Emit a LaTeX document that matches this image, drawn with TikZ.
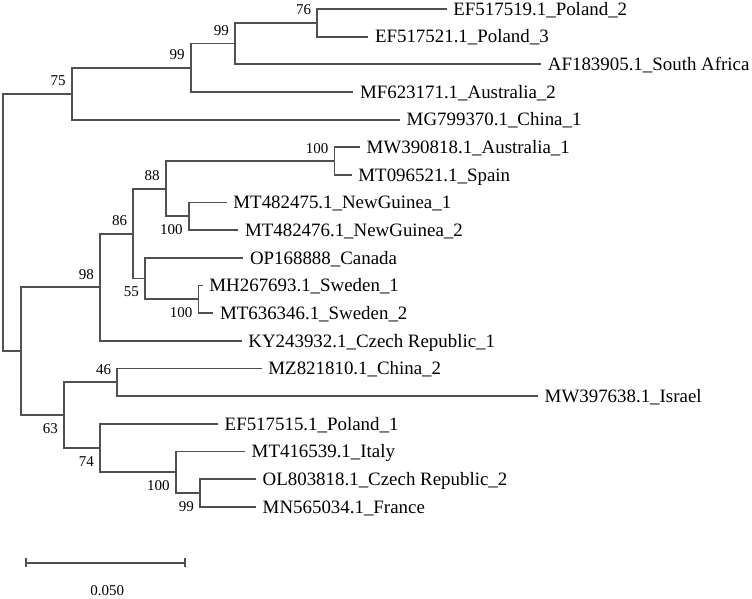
\documentclass[tikz,border=0pt]{standalone}
\usepackage{fontspec}
\setmainfont{Liberation Serif}
\usetikzlibrary{calc,arrows.meta}
\definecolor{linegray}{RGB}{80,80,80}
\begin{document}
\begin{tikzpicture}[x=1pt,y=-1pt,
  br/.style={draw=linegray, line width=1.8pt},
  leaf/.style={anchor=base west, inner sep=0pt, font=\fontsize{18.9}{21}\selectfont, xshift=6.5pt, yshift=-6.3pt},
  bsa/.style={anchor=base east, inner sep=0pt, font=\fontsize{15}{16}\selectfont},
  bsb/.style={anchor=north east, inner sep=0pt, font=\fontsize{15}{16}\selectfont},
  sbar/.style={draw=linegray, line width=1.8pt, {Bar[width=9pt]}-{Bar[width=9pt]}},
]
\useasboundingbox (0,0) rectangle (752,598);

% leaf tips
\coordinate (l1)  at (446.7,9);
\coordinate (l2)  at (368.3,36.65);
\coordinate (l3)  at (541.2,64.3);
\coordinate (l4)  at (353.3,91.95);
\coordinate (l5)  at (400,119.6);
\coordinate (l6)  at (360,147.25);
\coordinate (l7)  at (351.7,174.9);
\coordinate (l8)  at (226.7,202.55);
\coordinate (l9)  at (238.3,230.2);
\coordinate (l10) at (243.3,257.85);
\coordinate (l11) at (202.7,285.5);
\coordinate (l12) at (213.3,313.15);
\coordinate (l13) at (241.7,340.8);
\coordinate (l14) at (261.7,368.45);
\coordinate (l15) at (538,396.1);
\coordinate (l16) at (218,423.75);
\coordinate (l17) at (245,451.4);
\coordinate (l18) at (256,479.05);
\coordinate (l19) at (256,506.7);

% internal nodes
\coordinate (n76)   at (317.3,22.825);
\coordinate (n99b)  at (235,43.5625);
\coordinate (n99a)  at (190.7,67.756);
\coordinate (n75)   at (71.7,93.678);
\coordinate (n100a) at (334.5,161.075);
\coordinate (n100b) at (188.7,216.375);
\coordinate (n88)   at (165.7,188.725);
\coordinate (n100c) at (198.5,299.325);
\coordinate (n55)   at (145,278.5875);
\coordinate (n86)   at (133.3,233.656);
\coordinate (n98)   at (100,287.228);
\coordinate (n46)   at (117.3,382.275);
\coordinate (n99c)  at (200,492.875);
\coordinate (n100d) at (175.7,472.1375);
\coordinate (n74)   at (100,447.944);
\coordinate (n63)   at (64,415.11);
\coordinate (nX)    at (21,351.169);
\coordinate (root)  at (2.7,222.42);

% branches
\draw[br] (l1) -| (n76) |- (l2);
\draw[br] (n76) -| (n99b) |- (l3);
\draw[br] (n99b) -| (n99a) |- (l4);
\draw[br] (n99a) -| (n75) |- (l5);
\draw[br] (l6) -| (n100a) |- (l7);
\draw[br] (l8) -| (n100b) |- (l9);
\draw[br] (n100a) -| (n88) |- (n100b);
\draw[br] (l11) -| (n100c) |- (l12);
\draw[br] (l10) -| (n55) |- (n100c);
\draw[br] (n88) -| (n86) |- (n55);
\draw[br] (n86) -| (n98) |- (l13);
\draw[br] (l14) -| (n46) |- (l15);
\draw[br] (l18) -| (n99c) |- (l19);
\draw[br] (l17) -| (n100d) |- (n99c);
\draw[br] (l16) -| (n74) |- (n100d);
\draw[br] (n46) -| (n63) |- (n74);
\draw[br] (n98) -| (nX) |- (n63);
\draw[br] (n75) -| (root) |- (nX);

% leaf labels
\node[leaf] (t1)  at (l1)  {EF517519.1\_Poland\_2};
\node[leaf] (t2)  at (l2)  {EF517521.1\_Poland\_3};
\node[leaf] (t3)  at (l3)  {AF183905.1\_South Africa};
\node[leaf] (t4)  at (l4)  {MF623171.1\_Australia\_2};
\node[leaf] (t5)  at (l5)  {MG799370.1\_China\_1};
\node[leaf] (t6)  at (l6)  {MW390818.1\_Australia\_1};
\node[leaf] (t7)  at (l7)  {MT096521.1\_Spain};
\node[leaf] (t8)  at (l8)  {MT482475.1\_NewGuinea\_1};
\node[leaf] (t9)  at (l9)  {MT482476.1\_NewGuinea\_2};
\node[leaf] (t10) at (l10) {OP168888\_Canada};
\node[leaf] (t11) at (l11) {MH267693.1\_Sweden\_1};
\node[leaf] (t12) at (l12) {MT636346.1\_Sweden\_2};
\node[leaf] (t13) at (l13) {KY243932.1\_Czech Republic\_1};
\node[leaf] (t14) at (l14) {MZ821810.1\_China\_2};
\node[leaf] (t15) at (l15) {MW397638.1\_Israel};
\node[leaf] (t16) at (l16) {EF517515.1\_Poland\_1};
\node[leaf] (t17) at (l17) {MT416539.1\_Italy};
\node[leaf] (t18) at (l18) {OL803818.1\_Czech Republic\_2};
\node[leaf] (t19) at (l19) {MN565034.1\_France};

% bootstrap values
\node[bsa] (b76)   at ($(n76)+(-6,-8)$)   {76};
\node[bsa] (b99b)  at ($(n99b)+(-6,-8)$)  {99};
\node[bsa] (b99a)  at ($(n99a)+(-6,-8)$)  {99};
\node[bsa] (b75)   at ($(n75)+(-6,-8)$)   {75};
\node[bsa] (b100a) at ($(n100a)+(-6,-8)$) {100};
\node[bsa] (b88)   at ($(n88)+(-6,-8)$)   {88};
\node[bsa] (b86)   at ($(n86)+(-6,-8)$)   {86};
\node[bsa] (b98)   at ($(n98)+(-6,-8)$)   {98};
\node[bsa] (b46)   at ($(n46)+(-6,-8)$)   {46};
\node[bsb] (b100b) at ($(n100b)+(-6,8)$)  {100};
\node[bsb] (b55)   at ($(n55)+(-6,8)$)    {55};
\node[bsb] (b100c) at ($(n100c)+(-6,8)$)  {100};
\node[bsb] (b63)   at ($(n63)+(-6,8)$)    {63};
\node[bsb] (b74)   at ($(n74)+(-6,8)$)    {74};
\node[bsb] (b100d) at ($(n100d)+(-6,8)$)  {100};
\node[bsb] (b99c)  at ($(n99c)+(-6,8)$)   {99};

% scale bar
\coordinate (sb1) at (25,562.7);
\coordinate (sb2) at (186,562.7);
\draw[sbar] (sb1) -- (sb2);
\node[font=\fontsize{15}{16}\selectfont, inner sep=0pt] (sbl) at (107.3,590.7) {0.050};
\end{tikzpicture}
\end{document}
